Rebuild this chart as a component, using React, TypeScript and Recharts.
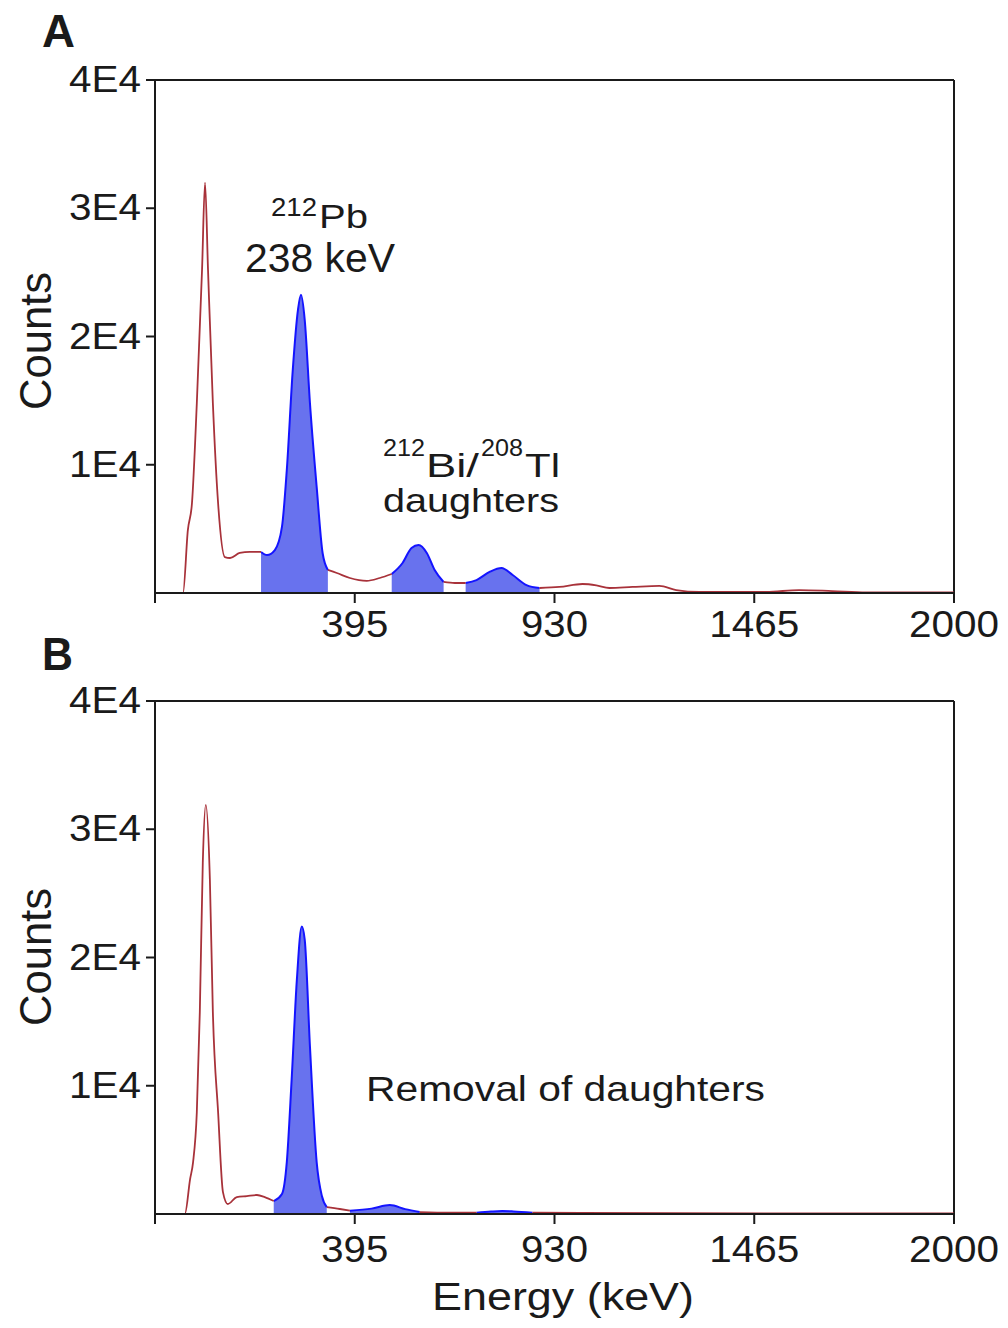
import React from 'react';
import { ComposedChart, Line, Area, XAxis, YAxis, ReferenceLine } from 'recharts';

const FONT = "'Liberation Sans', Arial, Helvetica, sans-serif";
const INK = '#1a1a1a';

// Panel A: full spectrum (energy in keV, counts)
const energyA = [-140, -65, -52, -41, -28, -14, -6, 2, 15, 29, 47, 61, 87, 114, 144, 160, 181, 200, 213, 229, 243, 251, 261, 275, 293, 309, 323, 347, 382, 427, 462, 494, 523, 547, 566, 588, 609, 633, 663, 692, 721, 756, 788, 818, 855, 890, 943, 1005, 1042, 1077, 1139, 1211, 1256, 1318, 1497, 1585, 1674, 1765, 2000];
const countsA = [0, 0, 4900, 7000, 14800, 25200, 32000, 25200, 14800, 7000, 2800, 2730, 3120, 3200, 3200, 2960, 3350, 5150, 9590, 17400, 22100, 23250, 21300, 14800, 8270, 3100, 1800, 1560, 1170, 950, 1170, 1480, 2340, 3510, 3740, 3120, 1790, 860, 780, 780, 1010, 1640, 1950, 1400, 620, 390, 470, 700, 600, 390, 470, 550, 230, 80, 80, 230, 150, 50, 50];
const windowsA = [[144, 323], [494, 633], [692, 890]];

// Panel B: after removal of daughters
const energyB = [-140, -60, -46, -38, -28, -20, -12, -4, 7, 15, 29, 42, 55, 79, 106, 133, 154, 178, 200, 213, 226, 240, 253, 261, 275, 293, 307, 320, 355, 382, 440, 489, 530, 569, 649, 721, 760, 790, 820, 871, 1000, 1250, 1500, 1750, 2000];
const countsB = [0, 0, 2720, 4050, 7940, 15720, 27390, 31900, 26070, 15720, 7940, 1710, 780, 1320, 1400, 1480, 1320, 1010, 1560, 4050, 10500, 18290, 22410, 21400, 13070, 4050, 1400, 540, 390, 260, 420, 700, 380, 150, 100, 100, 190, 230, 200, 100, 80, 60, 50, 50, 50];
const windowsB = [[178, 320], [382, 569], [721, 871]];

const xTicks = [-140, 395, 930, 1465, 2000];
const yTicks = [10000, 20000, 30000, 40000];
const yTickLabels = ['1E4', '2E4', '3E4', '4E4'];

function buildRows(energy: number[], counts: number[], windows: number[][]) {
  return energy.map((e, i) => {
    const inside = windows.some(([a, b]) => e >= a && e <= b);
    const strictlyInside = windows.some(([a, b]) => e > a && e < b);
    return {
      e,
      out: strictlyInside ? null : counts[i],
      win: inside ? counts[i] : null,
    };
  });
}

const rowsA = buildRows(energyA, countsA, windowsA);
const rowsB = buildRows(energyB, countsB, windowsB);

function T(props: any) {
  const { x, y, size, len, anchor = 'start', weight = 'normal', children, transform } = props;
  return (
    <text
      x={x}
      y={y}
      fontSize={size}
      fontFamily={FONT}
      fontWeight={weight}
      fill={INK}
      textAnchor={anchor}
      textLength={len}
      lengthAdjust="spacingAndGlyphs"
      transform={transform}
    >
      {children}
    </text>
  );
}

function makeXTick(baseline: number) {
  return (p: any) => {
    const v = p.payload.value;
    if (v === -140) return <g />;
    const s = String(v);
    return (
      <text x={p.x} y={baseline} fontSize={36} fontFamily={FONT} fill={INK} textAnchor="middle"
        textLength={23 * s.length - 2} lengthAdjust="spacingAndGlyphs">{s}</text>
    );
  };
}

function yTick(p: any) {
  const idx = yTicks.indexOf(p.payload.value);
  const s = idx >= 0 ? yTickLabels[idx] : '';
  return (
    <text x={141} y={p.y + 12} fontSize={36} fontFamily={FONT} fill={INK} textAnchor="end"
      textLength={72} lengthAdjust="spacingAndGlyphs">{s}</text>
  );
}

function Panel(props: any) {
  const { rows, top, height, margin, tickBaseline } = props;
  return (
    <div style={{ position: 'absolute', left: 0, top }}>
      <ComposedChart width={1008} height={height} data={rows} margin={margin}>
        <XAxis
          dataKey="e"
          type="number"
          domain={[-140, 2000]}
          ticks={xTicks}
          interval={0}
          allowDataOverflow
          height={30}
          tickSize={10}
          axisLine={{ stroke: INK, strokeWidth: 2 }}
          tickLine={{ stroke: INK, strokeWidth: 2 }}
          tick={makeXTick(tickBaseline)}
        />
        <YAxis
          type="number"
          domain={[0, 40000]}
          ticks={yTicks}
          interval={0}
          allowDataOverflow
          width={60}
          tickSize={9}
          axisLine={{ stroke: INK, strokeWidth: 2 }}
          tickLine={{ stroke: INK, strokeWidth: 2 }}
          tick={yTick}
        />
        <ReferenceLine y={40000} stroke={INK} strokeWidth={2} />
        <ReferenceLine x={2000} stroke={INK} strokeWidth={2} />
        <Area
          dataKey="win"
          type="monotone"
          stroke="#1414ff"
          strokeWidth={2}
          fill="#6872ee"
          fillOpacity={1}
          connectNulls={false}
          dot={false}
          activeDot={false}
          isAnimationActive={false}
        />
        <Line
          dataKey="out"
          type="monotone"
          stroke="#a8323a"
          strokeWidth={1.8}
          dot={false}
          activeDot={false}
          connectNulls={false}
          isAnimationActive={false}
        />
      </ComposedChart>
    </div>
  );
}

export default function App() {
  return (
    <div style={{ position: 'absolute', left: 0, top: 0, width: 1008, height: 1328, background: '#fff' }}>
      <Panel rows={rowsA} top={0} height={650} margin={{ top: 80, right: 54, bottom: 27, left: 95 }} tickBaseline={637} />
      <Panel rows={rowsB} top={620} height={708} margin={{ top: 81, right: 54, bottom: 84, left: 95 }} tickBaseline={642} />
      <svg width={1008} height={1328} style={{ position: 'absolute', left: 0, top: 0, pointerEvents: 'none' }}>
        <T x={42} y={47} size={46} len={33} weight="bold">A</T>
        <T x={42} y={670} size={46} len={31} weight="bold">B</T>

        <T x={51} y={341} size={44} len={138} anchor="middle" transform="rotate(-90 51 341)">Counts</T>
        <T x={51} y={957} size={44} len={138} anchor="middle" transform="rotate(-90 51 957)">Counts</T>

        <T x={271} y={216} size={25} len={46}>212</T>
        <T x={319} y={228} size={34} len={49}>Pb</T>
        <T x={245} y={272} size={41} len={150}>238 keV</T>

        <T x={383} y={456} size={24} len={42}>212</T>
        <T x={426} y={477} size={34} len={53}>Bi/</T>
        <T x={481} y={456} size={24} len={42}>208</T>
        <T x={525} y={477} size={34} len={35}>Tl</T>
        <T x={383} y={512} size={34} len={176}>daughters</T>

        <T x={366} y={1101} size={35} len={399}>Removal of daughters</T>
        <T x={432} y={1310} size={38} len={262}>Energy (keV)</T>
      </svg>
    </div>
  );
}
